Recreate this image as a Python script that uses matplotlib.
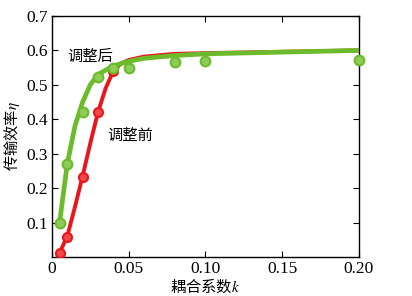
import matplotlib
matplotlib.use("Agg")
from matplotlib import pyplot as plt

plt.rcParams['font.family'] = ['Liberation Serif', 'Noto Sans CJK SC', 'DejaVu Sans']
plt.rcParams['mathtext.fontset'] = 'stix'

# 调整后 (after tuning): curve and measured points
kAfter = [0.005, 0.01, 0.015, 0.02, 0.025, 0.03, 0.04, 0.05, 0.06, 0.08, 0.1, 0.15, 0.2]
etaAfter = [0.10, 0.27, 0.38, 0.45, 0.50, 0.53, 0.555, 0.568, 0.577, 0.585, 0.59, 0.595, 0.60]
kAfterPts = [0.005, 0.01, 0.02, 0.03, 0.04, 0.05, 0.08, 0.1, 0.2]
etaAfterPts = [0.10, 0.27, 0.42, 0.523, 0.549, 0.549, 0.567, 0.57, 0.573]

# 调整前 (before tuning)
kBefore = [0.005, 0.01, 0.015, 0.02, 0.025, 0.03, 0.035, 0.04, 0.045, 0.05, 0.06, 0.08, 0.1, 0.2]
etaBefore = [0.012, 0.06, 0.145, 0.235, 0.33, 0.42, 0.49, 0.54, 0.562, 0.572, 0.582, 0.59, 0.592, 0.60]
kBeforePts = [0.005, 0.01, 0.02, 0.03, 0.04]
etaBeforePts = [0.012, 0.058, 0.233, 0.42, 0.54]

xTicks = [0, 0.05, 0.10, 0.15, 0.20]
xTickLabels = ['0', '0.05', '0.10', '0.15', '0.20']
yTicks = [0.1, 0.2, 0.3, 0.4, 0.5, 0.6, 0.7]

green = '#6cbb2c'
red = '#e8161c'
cjk = ['Noto Sans CJK SC', 'DejaVu Sans']

fig = plt.figure(figsize=(4.12, 2.96), dpi=100)
ax = fig.add_axes([0.126, 0.132, 0.745, 0.814])

ax.plot(kBefore, etaBefore, color=red, lw=2.8, zorder=2)
ax.plot(kBeforePts, etaBeforePts, 'o', color=red, ms=6.5, mfc='#f04848', mec=red, mew=1.5, zorder=3)
ax.plot(kAfter, etaAfter, color=green, lw=3.4, zorder=4)
ax.plot(kAfterPts, etaAfterPts, 'o', color=green, ms=7, mfc='#8ccc58', mec=green, mew=1.5, zorder=5,
        clip_on=False)

ax.text(0.0248, 0.581, '调整后', family=cjk, fontsize=11, ha='center', va='center')
ax.text(0.051, 0.352, '调整前', family=cjk, fontsize=11, ha='center', va='center')

ax.set_xlim(0, 0.2)
ax.set_ylim(0, 0.7)
ax.set_xticks(xTicks)
ax.set_xticklabels(xTickLabels)
ax.set_yticks(yTicks)
ax.set_yticklabels(['%.1f' % v for v in yTicks])
ax.tick_params(direction='in', top=True, right=True, labelsize=12.5, length=4, width=0.8, pad=3)
for lbl in ax.get_xticklabels() + ax.get_yticklabels():
    lbl.set_family('Liberation Serif')

ax.set_xlabel('耦合系数$k$', family=cjk, fontsize=11, labelpad=0)
ax.set_ylabel('传输效率$\\eta$', family=cjk, fontsize=11, labelpad=3)
for s in ax.spines.values():
    s.set_linewidth(1.0)

fig.savefig('out.png', dpi=100)
